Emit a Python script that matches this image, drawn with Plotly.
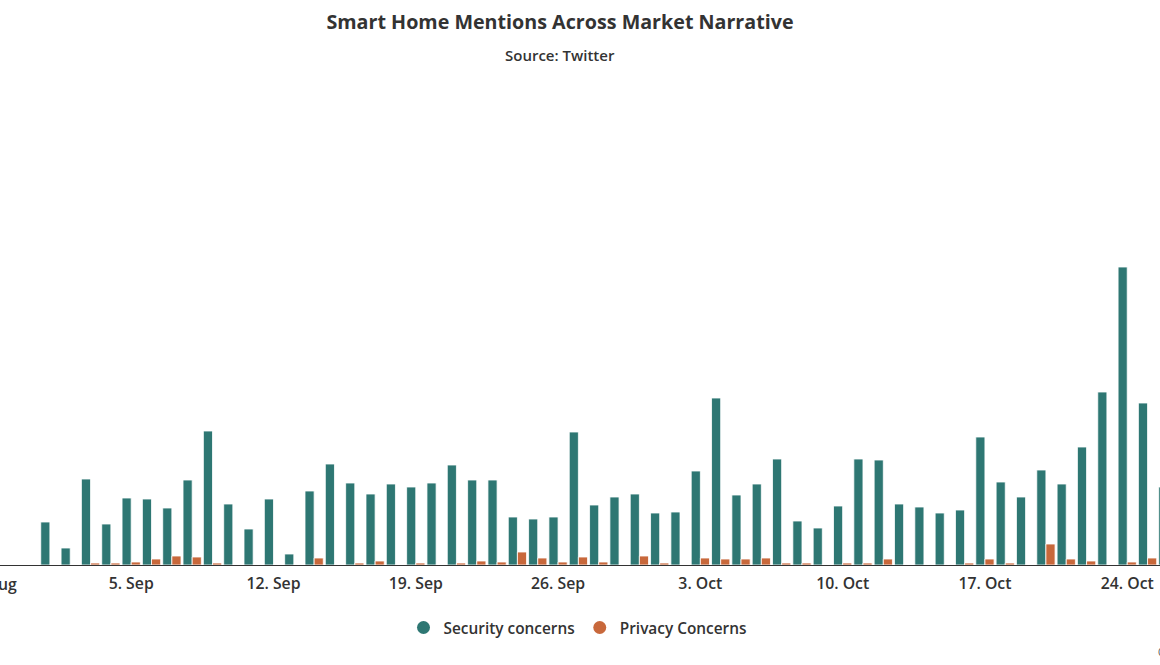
import pandas as pd
import plotly.graph_objects as go

# ---- data ----
dates = pd.date_range("2022-09-01", "2022-10-26", freq="D")
security = [
    21.5, 8.5, 43, 20.5, 33.5, 33, 28.5, 42.5, 67, 30.5,   # 1-10 Sep
    18, 33, 5.5, 37, 50.5, 41, 35.5, 40.5, 39, 41,          # 11-20 Sep
    50, 42.5, 42.5, 24, 23, 24, 66.5, 30, 34, 35.5,         # 21-30 Sep
    26, 26.5, 47, 83.5, 35, 40.5, 53, 22, 18.5, 29.5,       # 1-10 Oct
    53, 52.5, 30.5, 29, 26, 27.5, 64, 41.5, 34, 47.5,       # 11-20 Oct
    40.5, 59, 86.5, 149, 81, 39,                            # 21-26 Oct
]
privacy = [
    0, 0, 1, 1, 1.5, 3, 4.5, 4, 1, 0,
    0, 0, 0, 3.5, 0, 1, 2, 0, 1, 0,
    1, 2, 1.5, 6.5, 3.5, 1.5, 4, 1.5, 0, 4.5,
    1, 0, 3.5, 3, 3, 3.5, 1, 1, 0, 1,
    1, 3, 0, 0, 0, 1, 3, 1, 0, 10.5,
    3, 2, 0, 1.5, 3.5, 2,
]
series_names = ["Security concerns", "Privacy Concerns"]
colors = ["#2e7773", "#c8683b"]
title_text = "Smart Home Mentions Across Market Narrative"
subtitle_text = "Source: Twitter"

# ---- layout helpers ----
W, H = 1160, 665
PLOT_TOP, PLOT_BOTTOM = 80, 565
PX_PER_DAY = 20.327
ref_day = pd.Timestamp("2022-09-05")
ref_px = 131.2
x0 = ref_day - pd.Timedelta(days=ref_px / PX_PER_DAY)
x1 = ref_day + pd.Timedelta(days=(W - ref_px) / PX_PER_DAY)
PX_PER_UNIT = 2.0
y_max = (PLOT_BOTTOM - PLOT_TOP) / PX_PER_UNIT
PH = PLOT_BOTTOM - PLOT_TOP

FONT = "Open Sans, Lato, sans-serif"
TXT = "#333333"
small = dict(family=FONT, color=TXT, size=15, weight=600)
tickf = dict(family=FONT, color=TXT, size=15.8, weight=600)
legf = dict(family=FONT, color=TXT, size=15.4, weight=600)

fig = go.Figure()
for name, vals, col in zip(series_names, [security, privacy], colors):
    fig.add_trace(go.Bar(
        x=dates, y=vals, name=name,
        marker=dict(color=col, line=dict(color="white", width=0.8)),
        showlegend=False,
    ))
    fig.add_trace(go.Scatter(
        x=[None], y=[None], mode="markers", name=name,
        marker=dict(color=col, size=13, symbol="circle"), showlegend=True,
    ))

# label for the cut-off first tick (29 Aug)
aug_tick = ref_day - pd.Timedelta(days=7)
aug_frac = (aug_tick - x0) / (x1 - x0)

fig.update_layout(
    width=W, height=H,
    margin=dict(l=0, r=0, t=PLOT_TOP, b=H - PLOT_BOTTOM),
    paper_bgcolor="white", plot_bgcolor="white",
    barmode="group", bargap=0.1, bargroupgap=0,
    font=small,
    title=dict(text=title_text, x=560 / W, xanchor="center",
               y=1 - 22 / H, yanchor="middle", yref="container",
               font=dict(size=19.7, color=TXT, family=FONT, weight="bold")),
    xaxis=dict(type="date", range=[x0, x1], tick0=ref_day, dtick=7 * 86400000,
               tickformat="%-d. %b", showgrid=False, showline=True,
               linecolor="#333333", linewidth=1, ticks="", zeroline=False,
               tickfont=tickf, ticklabelstandoff=4),
    yaxis=dict(range=[0, y_max], showgrid=False, showticklabels=False,
               zeroline=False, showline=False, ticks=""),
    legend=dict(orientation="h", x=578 / W, xanchor="center", yref="container",
                y=1 - 628 / H, yanchor="middle", font=legf, itemclick=False),
    annotations=[
        dict(text=subtitle_text, xref="paper", yref="paper", x=560 / W,
             y=1 + (PLOT_TOP - 55) / PH, xanchor="center",
             yanchor="middle", showarrow=False, font=small),
        dict(text=aug_tick.strftime("%-d. %b"), xref="paper", yref="paper",
             x=float(aug_frac), y=-(584 - PLOT_BOTTOM) / PH,
             xanchor="center", yanchor="middle", showarrow=False, font=tickf),
        dict(text="©", xref="paper", yref="paper", x=1156 / W,
             y=-(652 - PLOT_BOTTOM) / PH, xanchor="left",
             yanchor="middle", showarrow=False, font=dict(size=12, color=TXT)),
    ],
)

fig.write_html(
    "out.html",
    config={"displayModeBar": False},
    post_script="document.body.style.margin='0';document.body.style.overflow='hidden';",
)
